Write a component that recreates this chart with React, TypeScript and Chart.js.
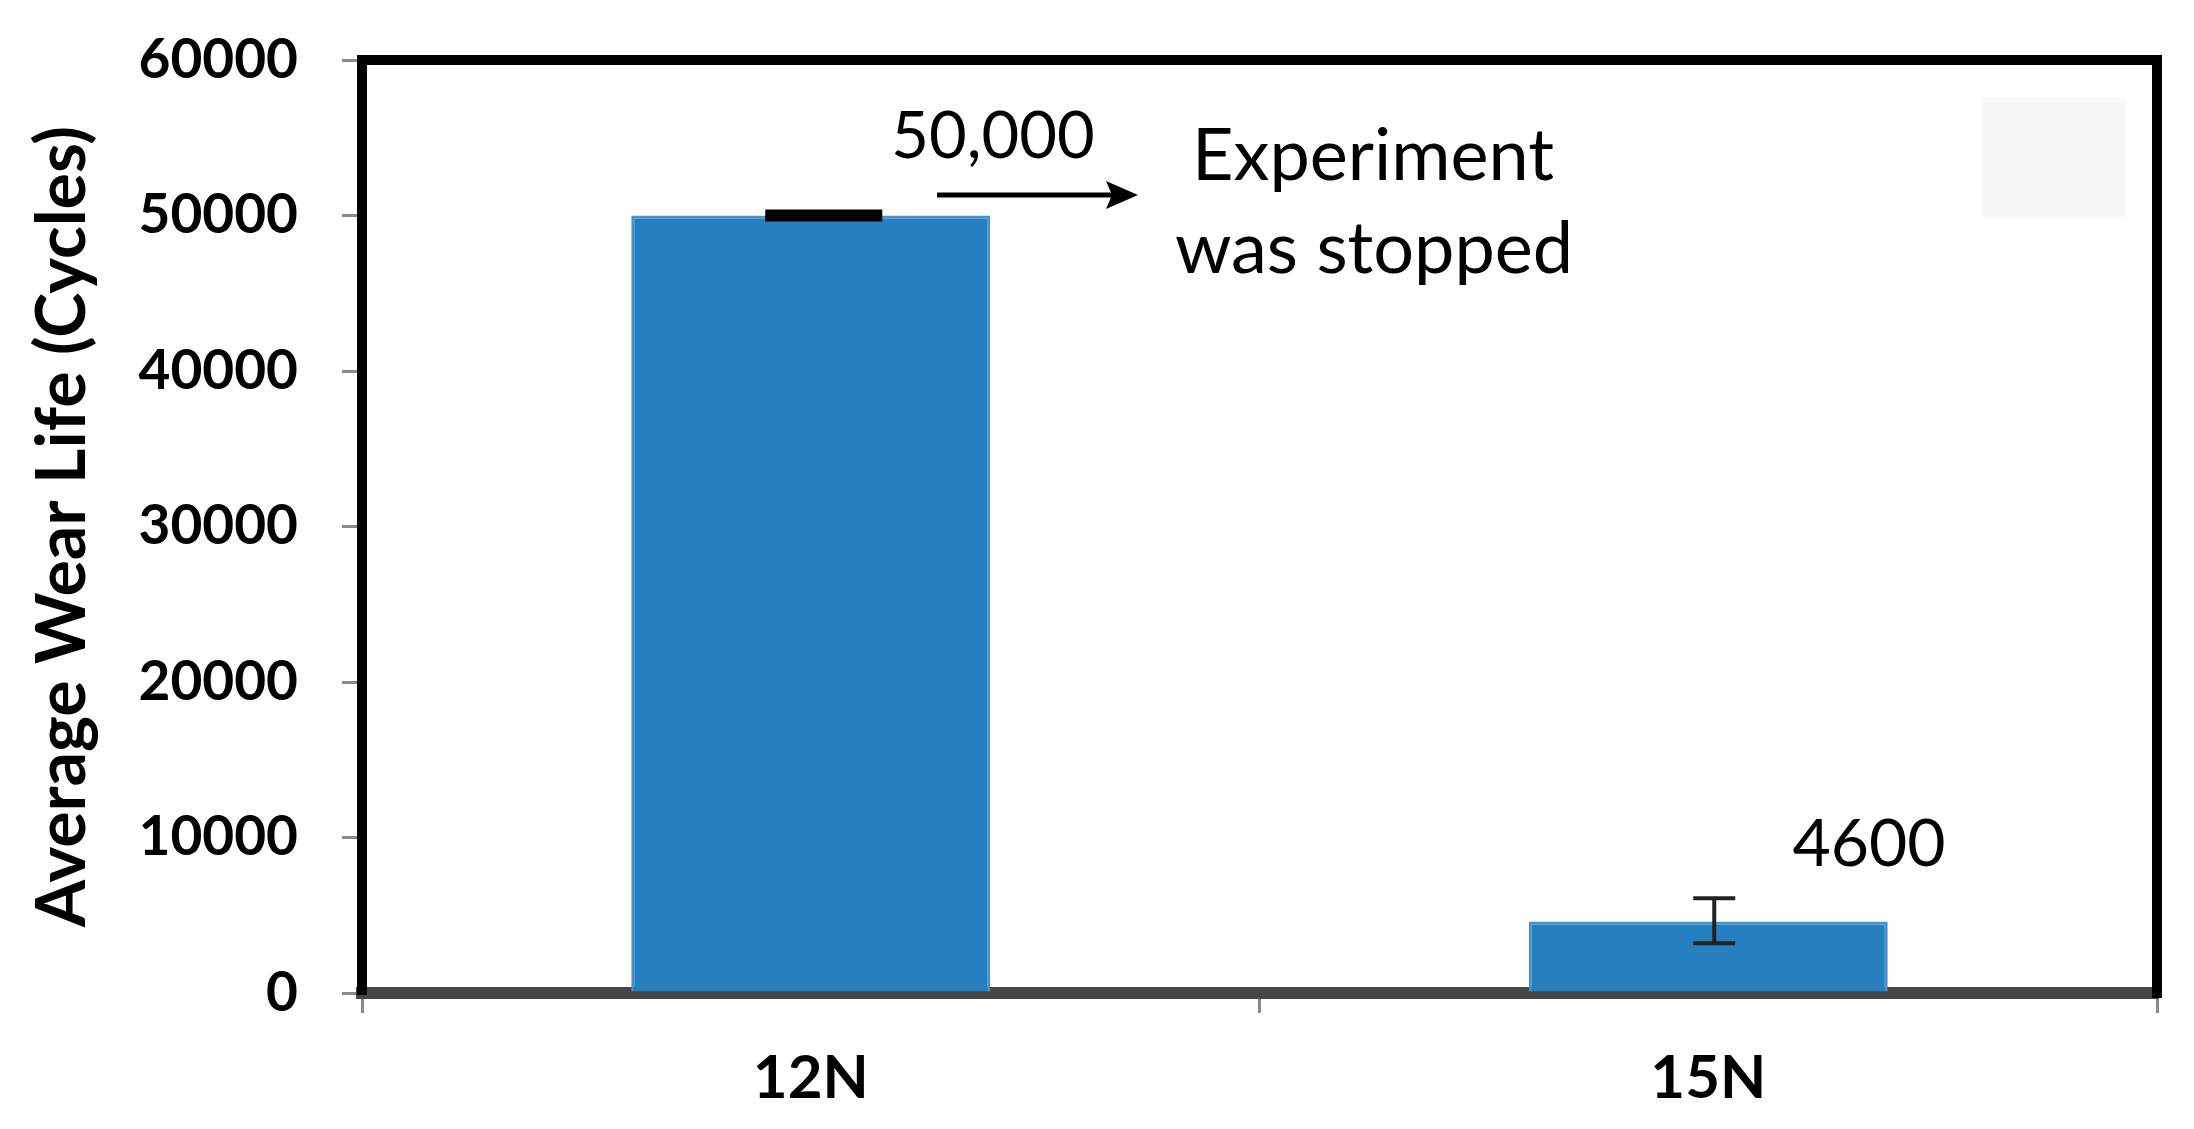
import React, { useEffect, useRef } from "react";
import { Chart, registerables } from "chart.js";

Chart.register(...registerables);

const categories = ["12N", "15N"];
const wearLife = [50000, 4600];
const errorPlus = [0, 1500];
const errorMinus = [0, 1400];
const yTicks = [0, 10000, 20000, 30000, 40000, 50000, 60000];
const annotationTop = "50,000";
const annotationNoteLines = ["Experiment", "was stopped"];
const annotationBar2 = "4600";

const FONT = "Lato, 'Open Sans', sans-serif";

const errorBarStyle = [
  { capWidth: 117, capThickness: 12, stemWidth: 4, color: "#000000", dx: 13 },
  { capWidth: 42, capThickness: 4, stemWidth: 4, color: "#222222", dx: 6 },
];

const errorBarPlugin = {
  id: "errorBars",
  afterDatasetsDraw(chart: any) {
    const ctx = chart.ctx;
    const meta = chart.getDatasetMeta(0);
    const yScale = chart.scales.y;
    ctx.save();
    meta.data.forEach((bar: any, i: number) => {
      const st = errorBarStyle[i];
      const x = bar.x + st.dx;
      const yTop = yScale.getPixelForValue(wearLife[i] + errorPlus[i]);
      const yBot = yScale.getPixelForValue(wearLife[i] - errorMinus[i]);
      ctx.strokeStyle = st.color;
      ctx.lineCap = "butt";
      if (yBot - yTop > 0.5) {
        ctx.lineWidth = st.stemWidth;
        ctx.beginPath();
        ctx.moveTo(x, yTop);
        ctx.lineTo(x, yBot);
        ctx.stroke();
      }
      ctx.lineWidth = st.capThickness;
      ctx.beginPath();
      ctx.moveTo(x - st.capWidth / 2, yTop);
      ctx.lineTo(x + st.capWidth / 2, yTop);
      ctx.stroke();
      if (yBot - yTop > 0.5) {
        ctx.beginPath();
        ctx.moveTo(x - st.capWidth / 2, yBot);
        ctx.lineTo(x + st.capWidth / 2, yBot);
        ctx.stroke();
      }
    });
    ctx.restore();
  },
};

const framePlugin = {
  id: "frameAndNotes",
  beforeDraw(chart: any) {
    const ctx = chart.ctx;
    ctx.save();
    ctx.fillStyle = "#ffffff";
    ctx.fillRect(0, 0, chart.width, chart.height);
    ctx.fillStyle = "#f7f7f7";
    ctx.fillRect(1982, 98, 144, 119);
    ctx.restore();
  },
  afterDraw(chart: any) {
    const ctx = chart.ctx;
    const a = chart.chartArea;
    ctx.save();
    ctx.strokeStyle = "#000000";
    ctx.lineWidth = 10;
    ctx.beginPath();
    ctx.moveTo(a.left - 5, a.top);
    ctx.lineTo(a.right, a.top);
    ctx.stroke();
    ctx.beginPath();
    ctx.moveTo(a.right, a.top - 5);
    ctx.lineTo(a.right, a.bottom + 5);
    ctx.stroke();

    ctx.fillStyle = "#000000";
    ctx.textAlign = "center";
    ctx.textBaseline = "alphabetic";
    ctx.font = `400 65px ${FONT}`;
    ctx.fillText(annotationTop, 993, 158);
    ctx.font = `400 66px ${FONT}`;
    ctx.fillText(annotationBar2, 1869, 866);
    ctx.font = `400 72px ${FONT}`;
    ctx.fillText(annotationNoteLines[0], 1373, 180);
    ctx.fillText(annotationNoteLines[1], 1374, 273);

    ctx.lineWidth = 5;
    ctx.beginPath();
    ctx.moveTo(937, 195);
    ctx.lineTo(1112, 195);
    ctx.stroke();
    ctx.beginPath();
    ctx.moveTo(1138, 195);
    ctx.lineTo(1106, 181);
    ctx.lineTo(1112, 195);
    ctx.lineTo(1106, 209);
    ctx.closePath();
    ctx.fill();
    ctx.restore();
  },
};

export default function App() {
  const ref = useRef<HTMLCanvasElement>(null);

  useEffect(() => {
    document.body.style.margin = "0";
    const canvas = ref.current;
    if (!canvas) return;
    const chart = new Chart(canvas, {
      type: "bar",
      data: {
        labels: categories,
        datasets: [
          {
            data: wearLife,
            backgroundColor: "#2580c2",
            borderColor: "#4a92cb",
            borderWidth: 3,
            barPercentage: 0.8,
            categoryPercentage: 0.5,
          },
        ],
      },
      options: {
        animation: false,
        responsive: false,
        devicePixelRatio: 1,
        layout: { padding: { left: 0, top: 60, right: 37, bottom: 0 } },
        plugins: {
          legend: { display: false },
          tooltip: { enabled: false },
        },
        scales: {
          x: {
            grid: {
              display: true,
              drawOnChartArea: false,
              drawTicks: true,
              tickLength: 20,
              color: "#8a8a8a",
              lineWidth: 3,
              offset: true,
            },
            border: { display: true, color: "#474747", width: 12 },
            ticks: {
              color: "#000000",
              padding: 30,
              font: { family: FONT, size: 60, weight: "bold" },
            },
            afterFit: (scale: any) => {
              scale.height = 136;
              scale.paddingLeft = 0;
              scale.paddingRight = 0;
            },
          },
          y: {
            min: 0,
            max: 60000,
            afterBuildTicks: (scale: any) => {
              scale.ticks = yTicks.map((v) => ({ value: v }));
            },
            grid: {
              display: true,
              drawOnChartArea: false,
              drawTicks: true,
              tickLength: 20,
              color: "#8a8a8a",
              lineWidth: 3,
            },
            border: { display: true, color: "#000000", width: 10 },
            ticks: {
              color: "#000000",
              padding: 44,
              font: { family: FONT, size: 55, weight: "bold" },
              callback: (v: any) => String(v),
            },
            title: {
              display: true,
              text: "Average Wear Life (Cycles)",
              color: "#000000",
              padding: { top: 22, bottom: 0 },
              font: { family: FONT, size: 68, weight: "bold" },
            },
            afterFit: (scale: any) => {
              scale.width = 362;
              scale.paddingTop = 0;
              scale.paddingBottom = 0;
            },
          },
        },
      },
      plugins: [errorBarPlugin, framePlugin],
    });
    return () => chart.destroy();
  }, []);

  return (
    <div style={{ position: "absolute", left: 0, top: 0, width: 2194, height: 1129, background: "#ffffff" }}>
      <canvas ref={ref} width={2194} height={1129} style={{ width: 2194, height: 1129, display: "block" }} />
    </div>
  );
}
